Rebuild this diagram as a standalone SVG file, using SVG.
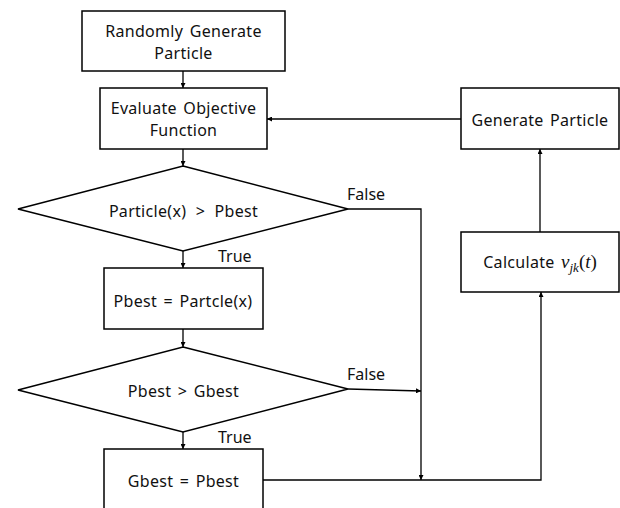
<svg xmlns="http://www.w3.org/2000/svg" width="620" height="508" viewBox="0 0 620 508">
<style>
.box{fill:#fff;stroke:#000;stroke-width:1.5}
.ln{fill:none;stroke:#000;stroke-width:1.3}
.t{font-family:"Noto Sans","Liberation Sans",sans-serif;font-size:16px;fill:#111;text-anchor:middle;word-spacing:2px;letter-spacing:0.3px}
.lbl{font-family:"Noto Sans","Liberation Sans",sans-serif;font-size:16px;fill:#111}
.m{font-family:"Liberation Serif","DejaVu Serif",serif;font-style:italic;letter-spacing:0}
</style>
<defs>
<marker id="ah" viewBox="0 0 8 8" refX="8" refY="4" markerWidth="5" markerHeight="5" markerUnits="userSpaceOnUse" orient="auto">
<path d="M0,0 L8,4 L0,8 z" fill="#000"/>
</marker>
</defs>
<rect width="620" height="508" fill="#fff"/>
<g id="connectors">
<line class="ln" x1="183" y1="71" x2="183" y2="88" marker-end="url(#ah)"/>
<line class="ln" x1="183" y1="149" x2="183" y2="166" marker-end="url(#ah)"/>
<line class="ln" x1="183" y1="251" x2="183" y2="268" marker-end="url(#ah)"/>
<line class="ln" x1="183" y1="329" x2="183" y2="347" marker-end="url(#ah)"/>
<line class="ln" x1="183" y1="432" x2="183" y2="449" marker-end="url(#ah)"/>
<polyline class="ln" points="348,209 421,209 421,480" marker-end="url(#ah)"/>
<line class="ln" x1="348" y1="389" x2="421" y2="391" marker-end="url(#ah)"/>
<polyline class="ln" points="263,480 541,480 541,292" marker-end="url(#ah)"/>
<line class="ln" x1="540" y1="232" x2="540" y2="149" marker-end="url(#ah)"/>
<line class="ln" x1="461" y1="119" x2="267" y2="119" marker-end="url(#ah)"/>
<text class="lbl" x="347" y="200">False</text>
<text class="lbl" x="347" y="380">False</text>
<text class="lbl" x="218" y="262">True</text>
<text class="lbl" x="218" y="443">True</text>
</g>
<g id="randomly-generate">
<rect class="box" x="82" y="11" width="203" height="60"/>
<text class="t" x="183.5" y="37">Randomly Generate</text>
<text class="t" x="183.5" y="59">Particle</text>
</g>
<g id="evaluate">
<rect class="box" x="100" y="88" width="167" height="61"/>
<text class="t" x="183.5" y="114">Evaluate Objective</text>
<text class="t" x="183.5" y="136">Function</text>
</g>
<g id="decision-pbest">
<polygon class="box" points="183,166 348,209 183,251 18,209"/>
<text class="t" x="183.5" y="217" style="word-spacing:5px">Particle(x) &gt; Pbest</text>
</g>
<g id="set-pbest">
<rect class="box" x="104" y="268" width="159" height="61"/>
<text class="t" x="183" y="307">Pbest = Partcle(x)</text>
</g>
<g id="decision-gbest">
<polygon class="box" points="183,347 348,389 183,432 18,390"/>
<text class="t" x="183.5" y="397">Pbest &gt; Gbest</text>
</g>
<g id="set-gbest">
<rect class="box" x="104" y="449" width="159" height="70"/>
<text class="t" x="183.5" y="487">Gbest = Pbest</text>
</g>
<g id="generate-particle">
<rect class="box" x="461" y="88" width="158" height="61"/>
<text class="t" x="540" y="126">Generate Particle</text>
</g>
<g id="calculate">
<rect class="box" x="461" y="232" width="158" height="60"/>
<text class="t" x="540" y="268">Calculate <tspan class="m" font-size="19">v</tspan><tspan class="m" font-size="13" dy="4">jk</tspan><tspan font-family="Liberation Serif,serif" font-size="19" dy="-4" letter-spacing="0">(</tspan><tspan class="m" font-size="19">t</tspan><tspan font-family="Liberation Serif,serif" font-size="19" letter-spacing="0">)</tspan></text>
</g>
</svg>
